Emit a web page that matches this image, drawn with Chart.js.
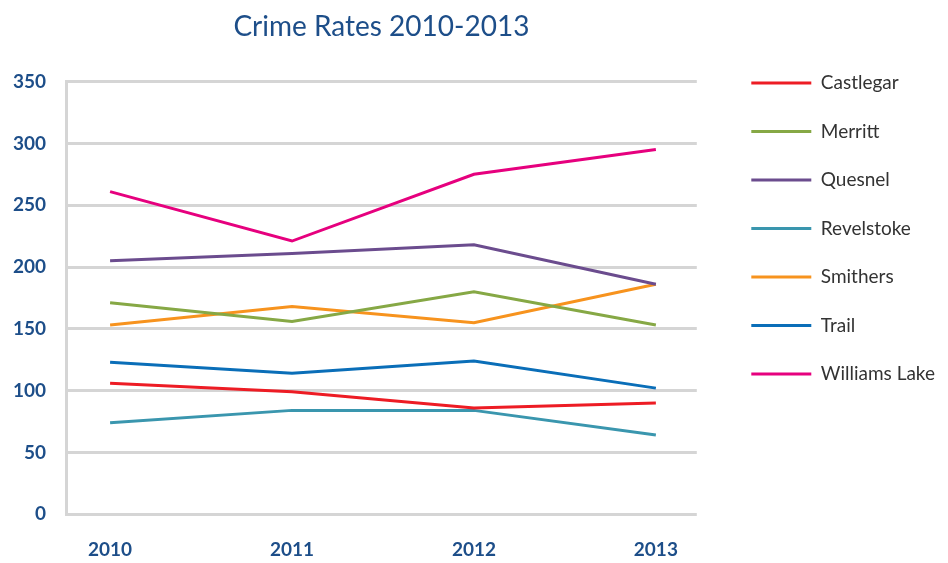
<!DOCTYPE html>
<html>
<head>
<meta charset="utf-8">
<script src="https://cdn.jsdelivr.net/npm/chart.js@4.4.1/dist/chart.umd.min.js"></script>
<style>
  html, body { margin: 0; padding: 0; background: #fff; }
</style>
</head>
<body>
<canvas id="crimeChart" width="948" height="563"></canvas>
<script>
// values
var years = [2010, 2011, 2012, 2013];
var yTicks = [0, 50, 100, 150, 200, 250, 300, 350];

var castlegar    = [106, 99, 86, 90];
var merritt      = [171, 156, 180, 153];
var quesnel      = [205, 211, 218, 186];
var revelstoke   = [74, 84, 84, 64];
var smithers     = [153, 168, 155, 186];
var trail        = [123, 114, 124, 102];
var williamsLake = [261, 221, 275, 295];

var seriesNames  = ['Castlegar', 'Merritt', 'Quesnel', 'Revelstoke', 'Smithers', 'Trail', 'Williams Lake'];
var seriesValues = [castlegar, merritt, quesnel, revelstoke, smithers, trail, williamsLake];
var seriesColors = ['#ED1C24', '#86A845', '#6B4C8E', '#3A96AE', '#F7931E', '#0A6EB8', '#E6007E'];

var blue = '#1D4E89';
var gridGray = '#D5D5D5';

var datasets = [];
for (var i = 0; i < seriesNames.length; i++)
{
	var pts = [];
	for (var j = 0; j < years.length; j++)
		pts.push({ x: years[j], y: seriesValues[i][j] });

	datasets.push({
		label: seriesNames[i],
		data: pts,
		borderColor: seriesColors[i],
		backgroundColor: seriesColors[i],
		borderWidth: 3,
		pointRadius: 0,
		tension: 0
	});
}

const ctx = document.getElementById('crimeChart').getContext('2d');

const config = {
	type: 'line',
	data: { datasets: datasets },
	options: {
		responsive: false,
		animation: false,
		layout: { padding: { left: -7, right: 3, top: 10, bottom: -22 } },
		scales: {
			x: {
				type: 'linear',
				min: 2009.758,
				max: 2013.225,
				afterBuildTicks: function(axis) {
					axis.ticks = years.map(function(v) { return { value: v }; });
				},
				grid: { display: false, drawTicks: false },
				border: { display: false },
				ticks: {
					color: blue,
					padding: 24,
					maxRotation: 0,
					font: { family: 'Lato', size: 19, weight: 'bold' },
					callback: function(v) { return String(v); }
				}
			},
			y: {
				min: 0,
				max: 350,
				afterBuildTicks: function(axis) {
					axis.ticks = yTicks.map(function(v) { return { value: v }; });
				},
				grid: { color: gridGray, lineWidth: 3, drawTicks: false },
				border: { color: gridGray, width: 3 },
				ticks: {
					color: blue,
					padding: 20,
					font: { family: 'Lato', size: 19, weight: 'bold' }
				}
			},
			// empty strip between plot and legend
			gap: {
				type: 'linear',
				position: 'right',
				grid: { display: false, drawTicks: false },
				border: { display: false },
				ticks: { display: false },
				afterFit: function(axis) { axis.width = 25; }
			}
		},
		plugins: {
			title: {
				display: true,
				fullSize: false,
				text: 'Crime Rates 2010-2013',
				color: blue,
				font: { family: 'Lato', size: 28, weight: 'normal' },
				padding: { top: 0, bottom: 38 }
			},
			legend: {
				position: 'right',
				align: 'start',
				maxWidth: 300,
				title: {
					display: true,
					text: '',
					font: { size: 10 },
					padding: { top: 0, bottom: 22 }
				},
				labels: {
					color: '#333333',
					boxWidth: 60,
					boxHeight: 3,
					padding: 29.5,
					font: { family: 'Lato', size: 19 },
					generateLabels: function(chart) {
						return chart.data.datasets.map(function(ds, k) {
							return {
								text: ds.label,
								fillStyle: ds.borderColor,
								strokeStyle: ds.borderColor,
								lineWidth: 0,
								fontColor: '#333333',
								datasetIndex: k
							};
						});
					}
				}
			},
			tooltip: { enabled: false }
		}
	}
};

const crimeChart = new Chart(ctx, config);
</script>
</body>
</html>
